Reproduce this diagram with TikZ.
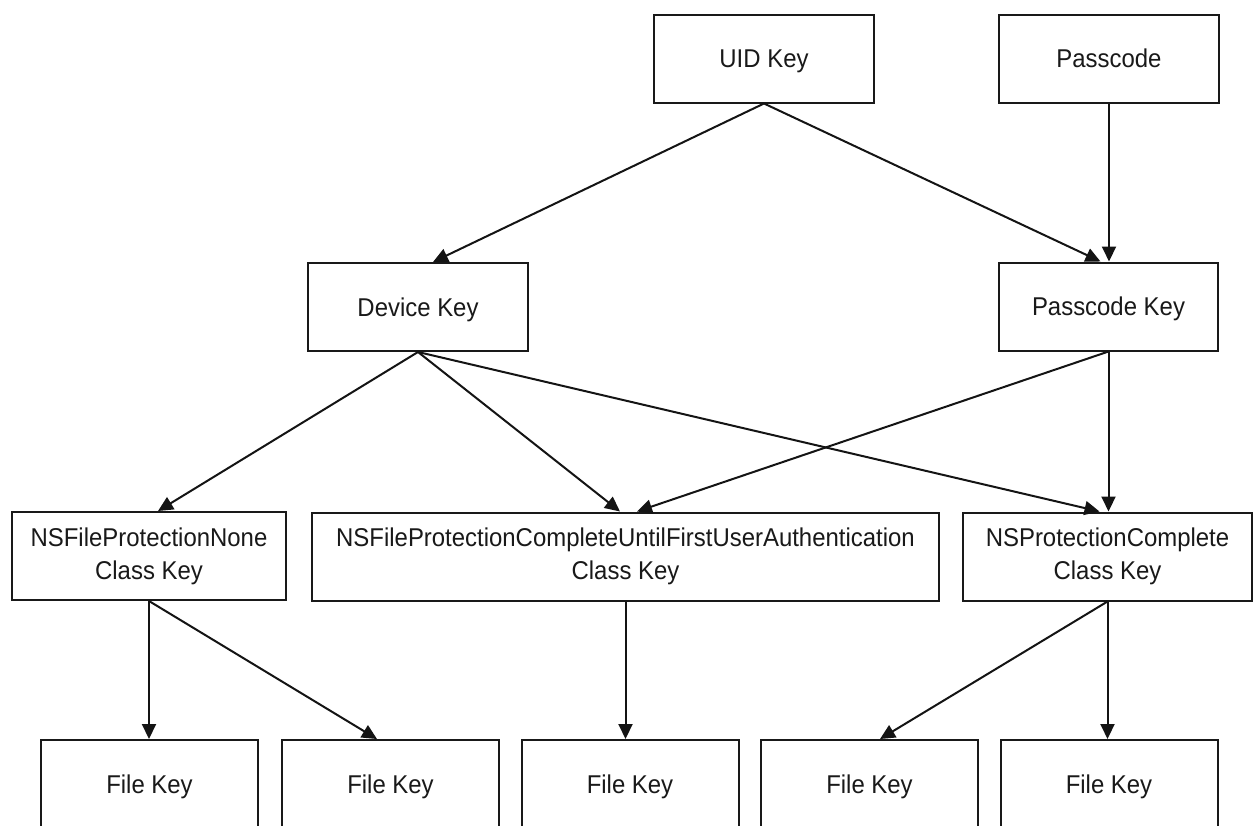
\documentclass[tikz,border=0pt]{standalone}
\usepackage{fontspec}
\setmainfont{Liberation Sans}[FakeStretch=0.93]
\usetikzlibrary{arrows.meta,calc}
\begin{document}
\begin{tikzpicture}[x=0.75pt,y=-0.75pt,
  kbox/.style={draw=black!90, line width=1.5pt, fill=white, inner sep=0pt,
    minimum height=66pt, align=center,
    font=\fontsize{19.3pt}{24.75pt}\selectfont, text=black!90},
  onebox/.style={kbox, text height=13.8pt, text depth=0pt},
  conn/.style={line width=1.5pt, draw=black!92,
    -{Triangle[length=11.25pt,width=10.5pt]}}]
\useasboundingbox (0,0) rectangle (1255,825);
% top row
\node[onebox, minimum width=165pt] (uid) at (764,58.5) {UID Key};
\node[onebox, minimum width=165pt] (pc) at (1109,58.5) {Passcode};
% second row
\node[onebox, minimum width=165pt] (dev) at (418,307) {Device Key};
\node[onebox, minimum width=164.25pt] (pk) at (1108.5,306.5) {Passcode Key};
% class keys
\node[kbox, minimum width=205.5pt] (none) at (149,556) {NSFileProtectionNone\\Class Key};
\node[kbox, minimum width=470.25pt] (big) at (625.5,556.5) {NSFileProtectionCompleteUntilFirstUserAuthentication\\Class Key};
\node[kbox, minimum width=216.75pt] (nspc) at (1107.5,556.5) {NSProtectionComplete\\Class Key};
% file keys
\node[onebox, minimum width=162.75pt] (fk1) at (149.5,784) {File Key};
\node[onebox, minimum width=162.75pt] (fk2) at (390.5,784) {File Key};
\node[onebox, minimum width=162.75pt] (fk3) at (630,784) {File Key};
\node[onebox, minimum width=162.75pt] (fk4) at (869.5,784) {File Key};
\node[onebox, minimum width=162.75pt] (fk5) at (1109,784) {File Key};
% connectors
\draw[conn] (uid.south) -- ($(dev.north)+(15,0)$);
\draw[conn] (uid.south) -- ($(pk.north)+(-8,0)$);
\draw[conn] (pc.south) -- (pc.south |- pk.north);
\draw[conn] (dev.south) -- ($(none.north)+(9,0)$);
\draw[conn] (dev.south) -- ($(big.north)+(-5.5,0)$);
\draw[conn] (dev.south) -- ($(nspc.north)+(-8,0)$);
\draw[conn] (pk.south) -- ($(big.north)+(11.5,0)$);
\draw[conn] (pk.south) -- (pk.south |- nspc.north);
\draw[conn] (none.south) -- (none.south |- fk1.north);
\draw[conn] (none.south) -- ($(fk2.north)+(-13.5,0)$);
\draw[conn] (big.south) -- (big.south |- fk3.north);
\draw[conn] (nspc.south) -- ($(fk4.north)+(10.5,0)$);
\draw[conn] (nspc.south) -- (nspc.south |- fk5.north);
\end{tikzpicture}
\end{document}
